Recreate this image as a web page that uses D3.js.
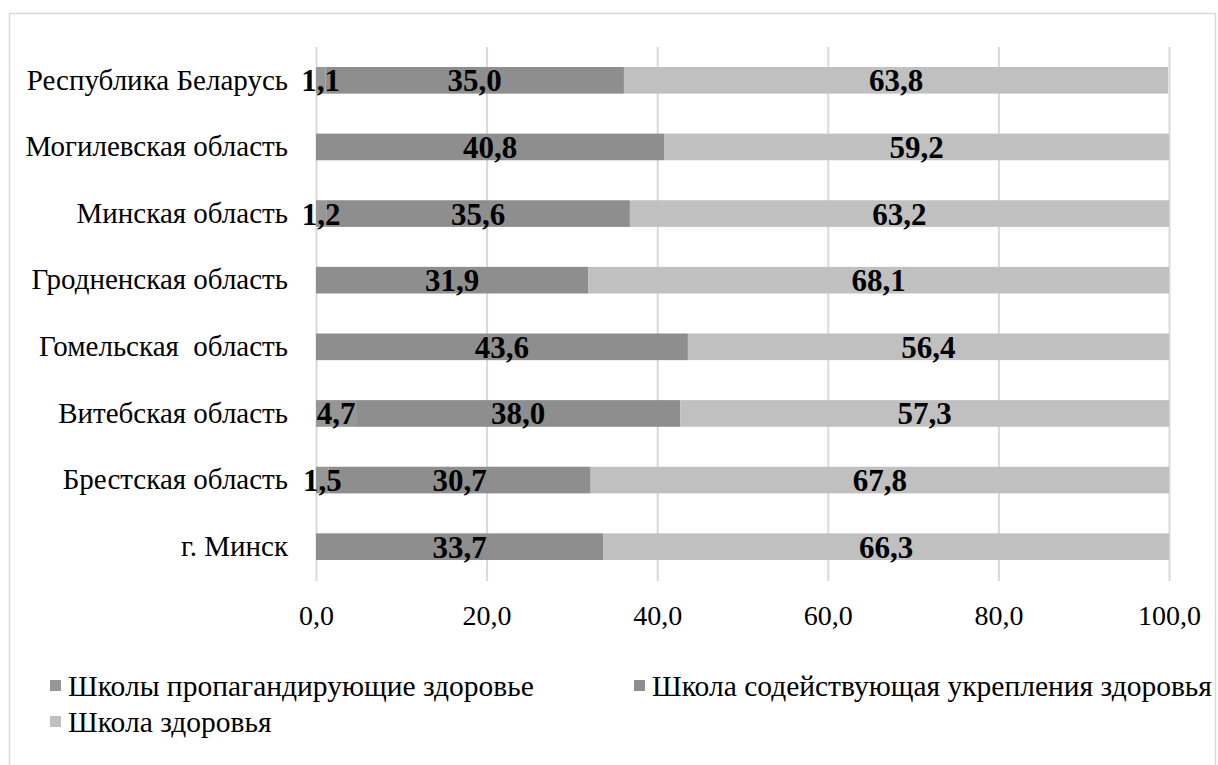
<html>
<head>
    <meta charset="utf-8">
    <script src="https://d3js.org/d3.v7.min.js"></script>
</head>
<body style="margin:0">
    <svg width="1218" height="765"></svg>

    <script>
        // данные
        var categories = ["Республика Беларусь", "Могилевская область", "Минская область",
                          "Гродненская область", "Гомельская  область", "Витебская область",
                          "Брестская область", "г. Минск"];
        var seriesNames = ["Школы пропагандирующие здоровье",
                           "Школа содействующая укрепления здоровья",
                           "Школа здоровья"];
        var propag   = [1.1, null, 1.2, null, null, 4.7, 1.5, null];
        var sodeist  = [35.0, 40.8, 35.6, 31.9, 43.6, 38.0, 30.7, 33.7];
        var zdorovie = [63.8, 59.2, 63.2, 68.1, 56.4, 57.3, 67.8, 66.3];
        var xTicks = [0, 20, 40, 60, 80, 100];
        var colors = ["#969696", "#8e8e8e", "#c0c0c0"];

        var FONT = "'Liberation Serif'";
        var svg = d3.select("svg")
                    .attr("font-family", "Liberation Serif")
                    .style("font-family", FONT);

        // рамка диаграммы
        svg.append("rect")
           .attr("x", 9.5).attr("y", 13.5)
           .attr("width", 1206).attr("height", 800)
           .attr("fill", "none").attr("stroke", "#d9d9d9").attr("stroke-width", 1.5);

        var x = d3.scaleLinear().domain([0, 100]).range([316, 1169]);
        var y = d3.scaleBand().domain(categories).range([47, 580])
                  .paddingInner(0.6).paddingOuter(0.3);

        var fmt = function(v){ return d3.format(".1f")(v).replace(".", ","); };

        // сетка
        svg.append("g")
           .attr("transform", "translate(0,581)")
           .call(d3.axisBottom(x).tickValues(xTicks).tickSize(-534).tickFormat(""))
           .call(function(g){
               g.select(".domain").remove();
               g.selectAll("line").attr("stroke", "#d9d9d9").attr("stroke-width", 2);
           });

        // таблица для стека
        var table = categories.map(function(c, i){
            return { cat: c, s0: propag[i] || 0, s1: sodeist[i], s2: zdorovie[i] };
        });
        var stack = d3.stack().keys(["s0", "s1", "s2"])(table);

        var layers = svg.selectAll(".layer")
           .data(stack)
           .enter().append("g")
           .attr("class", "layer")
           .attr("fill", function(d, i){ return colors[i]; });

        layers.selectAll("rect")
           .data(function(d){ return d; })
           .enter().append("rect")
           .attr("x", function(d){ return x(d[0]); })
           .attr("y", function(d){ return y(d.data.cat); })
           .attr("width", function(d){ return x(d[1]) - x(d[0]); })
           .attr("height", y.bandwidth());

        // подписи значений
        stack.forEach(function(layer){
            svg.append("g").selectAll("text")
               .data(layer.filter(function(d){ return d[1] - d[0] > 0; }))
               .enter().append("text")
               .attr("font-family", "Liberation Serif")
               .style("font-family", FONT)
               .style("font-size", "31px")
               .style("font-weight", "bold")
               .attr("fill", "#000")
               .attr("text-anchor", "middle")
               .attr("x", function(d){ return x((d[0] + d[1]) / 2); })
               .attr("y", function(d){ return y(d.data.cat) + y.bandwidth() / 2 + 11; })
               .text(function(d){ return fmt(d[1] - d[0]); });
        });

        // ось категорий
        var yAxis = svg.append("g")
           .attr("transform", "translate(316,0)")
           .call(d3.axisLeft(y).tickSize(0).tickPadding(28));
        yAxis.attr("font-family", "Liberation Serif").select(".domain").remove();
        yAxis.selectAll("text")
           .attr("fill", "#000")
           .attr("font-family", "Liberation Serif")
           .style("font-family", FONT)
           .style("font-size", "29px")
           .style("white-space", "pre");

        // ось значений
        var xAxis = svg.append("g")
           .attr("transform", "translate(0,580)")
           .call(d3.axisBottom(x).tickValues(xTicks).tickSize(0).tickPadding(25).tickFormat(fmt));
        xAxis.attr("font-family", "Liberation Serif").select(".domain").remove();
        xAxis.selectAll("text")
           .attr("fill", "#000")
           .attr("font-family", "Liberation Serif")
           .style("font-family", FONT)
           .style("font-size", "28px");

        // легенда
        var legPos = [[50, 686], [634, 686], [50, 722]];
        var leg = svg.selectAll(".legItem")
           .data(seriesNames)
           .enter().append("g")
           .attr("transform", function(d, i){ return "translate(" + legPos[i][0] + "," + legPos[i][1] + ")"; });
        leg.append("rect")
           .attr("x", 0).attr("y", -6).attr("width", 11).attr("height", 11)
           .attr("fill", function(d, i){ return colors[i]; });
        leg.append("text")
           .attr("x", 18)
           .attr("y", 10)
           .attr("fill", "#000")
           .attr("font-family", "Liberation Serif")
           .style("font-family", FONT)
           .style("font-size", "29.5px")
           .text(function(d){ return d; });
    </script>
</body>
</html>
